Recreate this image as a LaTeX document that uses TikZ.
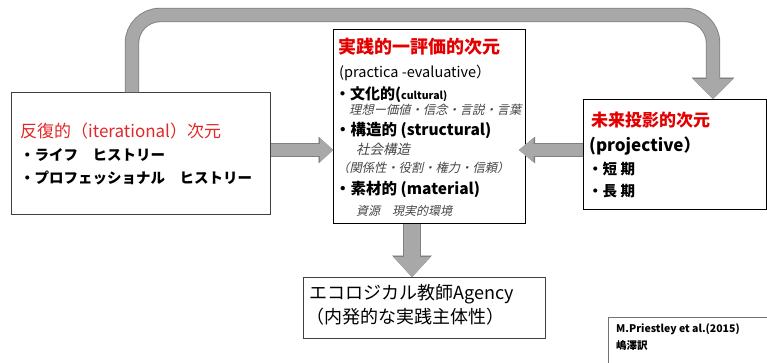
\documentclass[tikz,border=0pt]{standalone}
\usepackage{fontspec}
\newfontfamily\jp{Noto Sans CJK JP}
\newfontfamily\jpit[FakeSlant=0.22]{Noto Sans CJK JP}
\usetikzlibrary{arrows.meta}
\definecolor{ared}{RGB}{228,0,0}
\definecolor{lred}{RGB}{225,40,40}
\definecolor{arrowgray}{RGB}{168,168,168}
\definecolor{arrowedge}{RGB}{128,128,128}
\definecolor{itgray}{RGB}{70,70,70}
\tikzset{
  box/.style={draw=black, line width=0.9pt, fill=white, inner sep=0pt, anchor=north west},
  txt/.style={anchor=base west, inner sep=0pt},
  ga/.style n args={3}{line width=#1, draw=arrowgray, -{Triangle[length=#2,width=#3,line width=0.1pt]}},
  fs/.style={font=\jp\fontsize{#1}{#1}\selectfont},
  fb/.style={font=\jp\bfseries\fontsize{#1}{#1}\selectfont},
  fi/.style={font=\jpit\fontsize{#1}{#1}\selectfont, text=itgray},
}
\begin{document}
\begin{tikzpicture}[x=1pt,y=-1pt]
\useasboundingbox (0,0) rectangle (767,362);
\fill[white] (0,0) rectangle (767,362);

% boxes
\node[box, draw=black!75, minimum width=259pt, minimum height=122pt] (iter) at (11,92) {};
\node[box, minimum width=192pt, minimum height=194pt] (prac) at (333,29) {};
\node[box, minimum width=183pt, minimum height=110pt] (proj) at (583,99) {};
\node[box, draw=black!75, minimum width=242pt, minimum height=61pt] (eco) at (303,277) {};
\node[box, draw=black!55, line width=0.6pt, minimum width=170pt, minimum height=60pt] (cred) at (608,317) {};

% left box text
\node[txt, fs=17, text=lred] (itT) at (20,137) {反復的（iterational）次元};
\node[txt, fb=14.5] (itA) at (20,160) {・ライフ　ヒストリー};
\node[txt, fb=14.5] (itB) at (20,183) {・プロフェッショナル　ヒストリー};

% center box text
\node[txt, fb=18, text=ared] (prT) at (338,53) {実践的一評価的次元};
\node[txt, fs=14.5] (prS) at (339,77) {(practica -evaluative）};
\node[txt, fb=15] (prA) at (335,99) {・文化的(\fontsize{10.5}{10.5}\selectfont cultural)};
\node[txt, fi=12.3] (prA1) at (349,114) {理想ー価値・信念・言説・言葉};
\node[txt, fb=15.5] (prB) at (335,135) {・構造的 (structural)};
\node[txt, fi=13.5] (prB1) at (356,154) {社会構造};
\node[txt, fi=12.3] (prB2) at (337,172) {（関係性・役割・権力・信頼）};
\node[txt, fb=15.5] (prC) at (335,194) {・素材的 (material)};
\node[txt, fi=12] (prC1) at (356,215) {資源　現実的環境};

% right box text
\node[txt, fb=17, text=ared] (pjT) at (591,126) {未来投影的次元};
\node[txt, fb=17] (pjS) at (589,151) {(projective）};
\node[txt, fb=14.5] (pjA) at (588,174) {・短 期};
\node[txt, fb=14.5] (pjB) at (588,196) {・長 期};

% bottom box text
\node[txt, fs=18] (ecA) at (309,299) {エコロジカル教師Agency};
\node[txt, fs=18] (ecB) at (306,323) {（内発的な実践主体性）};

% credit
\node[txt, fb=10.5] (crA) at (616,332) {M.Priestley et al.(2015)};
\node[txt, fb=10.5] (crB) at (616,349) {嶋澤訳};

% arrows
\coordinate (topline) at (420,15);
\draw[ga={14.4pt}{21.5pt}{42.5pt}, arrowedge, rounded corners=28pt] (iter.north -| 132,0) |- (topline) -| (proj.north -| 713,0);
\draw[ga={12.6pt}{20pt}{40pt}, rounded corners=28pt] (iter.north -| 132,0) |- (topline) -| (proj.north -| 713,0);

\draw[ga={13.4pt}{14.5pt}{26.5pt}, arrowedge] (iter.east |- 0,150) -- (prac.west |- 0,150);
\draw[ga={12pt}{13pt}{24pt}] (iter.east |- 0,150) -- (prac.west |- 0,150);

\coordinate (pjtip) at (519,150);
\draw[ga={13.4pt}{16pt}{26.5pt}, arrowedge] (proj.west |- 0,150) -- (pjtip);
\draw[ga={12pt}{14.5pt}{24pt}] (proj.west |- 0,150) -- (pjtip);

\draw[ga={17.4pt}{21.5pt}{39.5pt}, arrowedge] (prac.south -| 412,0) -- (eco.north -| 412,0);
\draw[ga={16pt}{20pt}{37pt}] (prac.south -| 412,0) -- (eco.north -| 412,0);
\end{tikzpicture}
\end{document}
